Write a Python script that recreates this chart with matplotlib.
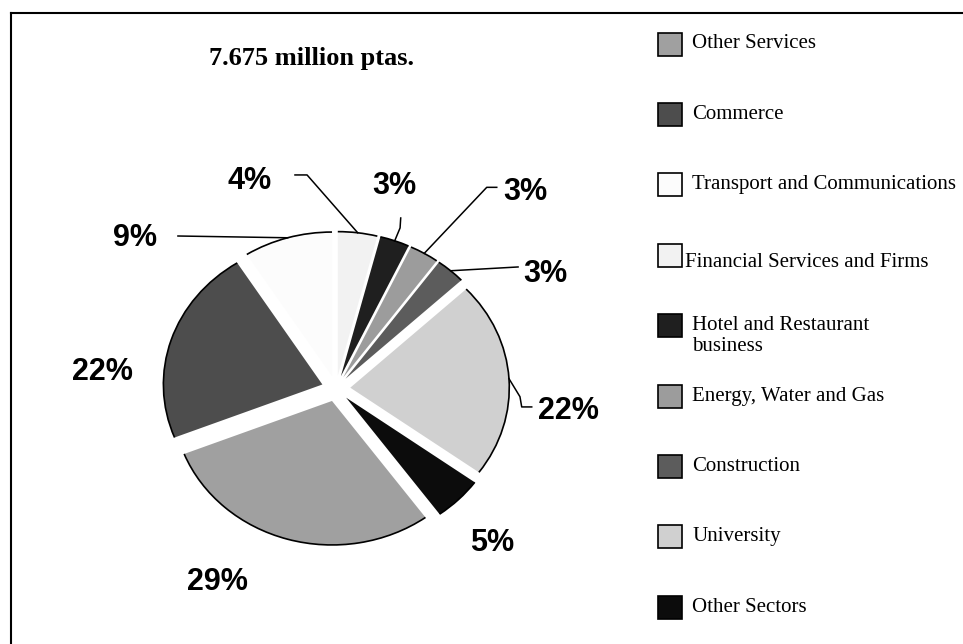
import numpy as np
import matplotlib.pyplot as plt
from matplotlib.patches import Arc, Rectangle
from matplotlib.lines import Line2D

sectors = ['Other Services', 'Commerce', 'Transport and Communications',
           'Financial Services and Firms', 'Hotel and Restaurant\nbusiness',
           'Energy, Water and Gas', 'Construction', 'University', 'Other Sectors']
shares = [29, 22, 9, 4, 3, 3, 3, 22, 5]
greys = ['#a0a0a0', '#4d4d4d', '#fcfcfc', '#f2f2f2', '#1f1f1f',
         '#9c9c9c', '#5c5c5c', '#d0d0d0', '#0c0c0c']
title = '7.675 million ptas.'

# where the % labels sit and the bends of their leader lines (pie radius = 1)
label_xy = [(-0.748, -1.344), (-1.472, 0.115), (-1.264, 1.045), (-0.541, 1.441),
            (0.365, 1.406), (1.189, 1.365), (1.314, 0.795), (1.465, -0.156),
            (0.981, -1.073)]
leaders = [None, None,
           [(-0.994, 1.059)],
           [(-0.258, 1.483), (-0.182, 1.483)],
           [(0.407, 1.184), (0.403, 1.115)],
           [(1.011, 1.397), (0.948, 1.397)],
           [(1.145, 0.844)],
           [(1.231, -0.128), (1.168, -0.128), (1.157, -0.057)],
           None]

W, H = 963, 644
fig = plt.figure(figsize=(W / 100, H / 100), dpi=100)
ax = fig.add_axes([0, 0, 640 / W, 1])

wedges, _ = ax.pie(shares, colors=greys, explode=[0.09] * len(shares),
                   startangle=-54, counterclock=False,
                   wedgeprops=dict(linewidth=0))

# pie is a bit wider than tall in the original
cx, cy, rx, ry = 336, 388.5, 159, 144
ax.set_aspect('auto')
ax.set_xlim(-cx / rx, (640 - cx) / rx)
ax.set_ylim((cy - H) / ry, cy / ry)
ax.axis('off')

for w in wedges:
    ax.add_patch(Arc(w.center, 2 * w.r, 2 * w.r, theta1=w.theta1,
                     theta2=w.theta2, color='black', lw=1.2))

for i, (s, (lx, ly)) in enumerate(zip(shares, label_xy)):
    ax.text(lx, ly, '%d%%' % s, ha='center', va='center', fontsize=22,
            fontweight='bold', family='Liberation Sans')
    if leaders[i]:
        w = wedges[i]
        mid = np.radians((w.theta1 + w.theta2) / 2)
        end = (w.center[0] + w.r * np.cos(mid), w.center[1] + w.r * np.sin(mid))
        pts = leaders[i] + [end]
        ax.plot([p[0] for p in pts], [p[1] for p in pts], color='black', lw=1.1)

fig.text(311 / W, 1 - 58 / H, title, ha='center', va='center', fontsize=19,
         fontweight='bold', family='Liberation Serif')

# hand drawn legend, like the spreadsheet one
for i, (name, c) in enumerate(zip(sectors, greys)):
    yc = 44 + 70.4 * i
    fig.add_artist(Rectangle((658 / W, 1 - (yc + 11.5) / H), 24 / W, 23 / H,
                             transform=fig.transFigure, facecolor=c,
                             edgecolor='black', lw=1.2))
    tx, ty, va = 692, yc, 'center'
    if '\n' in name:
        ty, va = yc - 10, 'top'
    if name.startswith('Financial'):
        tx, ty = 685, yc + 7
    fig.text(tx / W, 1 - ty / H, name, ha='left', va=va, fontsize=15,
             family='Liberation Serif', linespacing=1.2)

# frame around the chart (runs off the right and bottom edges)
fig.add_artist(Line2D([11 / W, 1], [1 - 13 / H] * 2, transform=fig.transFigure,
                      color='black', lw=1.5))
fig.add_artist(Line2D([11 / W] * 2, [0, 1 - 13 / H], transform=fig.transFigure,
                      color='black', lw=1.5))

fig.savefig('out.png', dpi=100)
